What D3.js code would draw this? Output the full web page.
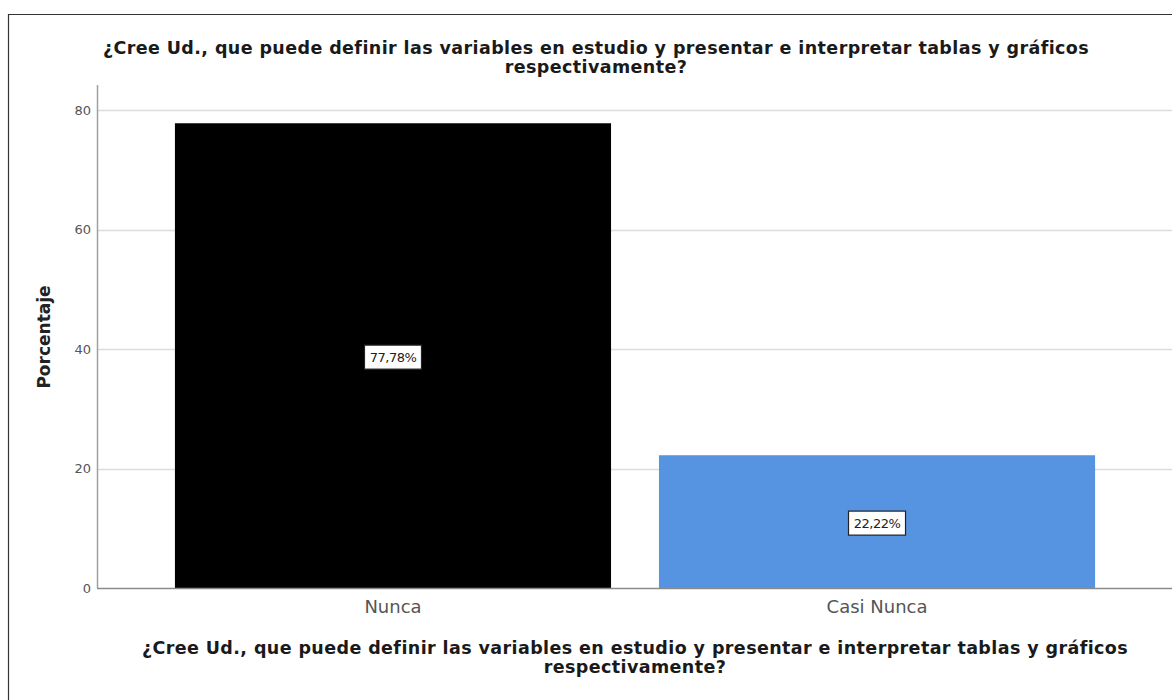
<!DOCTYPE html>
<html>
<head>
<meta charset="utf-8">
<script src="https://cdn.jsdelivr.net/npm/d3@7"></script>
<style>
  html, body { margin: 0; padding: 0; background: #fff; }
  svg { display: block; }
</style>
</head>
<body>
<svg id="chart" width="1172" height="700"></svg>
<script>
// Response categories and their percentages
const categories = ["Nunca", "Casi Nunca"];
const percentages = [77.78, 22.22];
const barColors = ["#000000", "#5694e2"];
const yTicks = [0, 20, 40, 60, 80];
const titleLines = [
  "¿Cree Ud., que puede definir las variables en estudio y presentar e interpretar tablas y gráficos",
  "respectivamente?"
];
const yLabel = "Porcentaje";

const svg = d3.select("#chart");
const W = 1172, H = 700;
const plot = { left: 97, right: 1173, top: 85, bottom: 588 };
const FONT = "'DejaVu Sans', 'Liberation Sans', Arial, sans-serif";

const x = d3.scaleBand()
  .domain(categories)
  .range([plot.left, plot.right])
  .paddingInner(0.099)
  .paddingOuter(0.161);

const y = d3.scaleLinear()
  .domain([0, 80])
  .range([plot.bottom, 110]);

// Outer frame (top and left edges)
svg.append("path")
  .attr("d", `M8.5,${H} V14.5 H${W}`)
  .attr("fill", "none")
  .attr("stroke", "#333")
  .attr("stroke-width", 1.2);

// Horizontal gridlines
svg.append("g")
  .selectAll("line")
  .data(yTicks.filter(d => d > 0))
  .join("line")
  .attr("x1", plot.left)
  .attr("x2", plot.right)
  .attr("y1", d => Math.round(y(d)) + 0.5)
  .attr("y2", d => Math.round(y(d)) + 0.5)
  .attr("stroke", "#dcdcdc")
  .attr("stroke-width", 1.5);

// Bars
const data = categories.map((c, i) => ({ c, v: percentages[i], color: barColors[i] }));
svg.append("g")
  .selectAll("rect")
  .data(data)
  .join("rect")
  .attr("x", d => x(d.c))
  .attr("y", d => y(d.v))
  .attr("width", x.bandwidth())
  .attr("height", d => y(0) - y(d.v))
  .attr("fill", d => d.color);

// Y axis
const yAxis = svg.append("g")
  .attr("transform", `translate(${plot.left},0)`)
  .call(d3.axisLeft(y).tickValues(yTicks).tickSize(0).tickPadding(6));
yAxis.select(".domain")
  .attr("d", `M0.5,${plot.top}V${plot.bottom}`)
  .attr("stroke", "#a0a0a0")
  .attr("stroke-width", 1.5);
yAxis.selectAll("text")
  .attr("font-family", FONT)
  .attr("font-size", 13)
  .attr("fill", "#555");

// X axis
const xAxis = svg.append("g")
  .attr("transform", `translate(0,${plot.bottom})`)
  .call(d3.axisBottom(x).tickSize(0).tickPadding(12));
xAxis.select(".domain")
  .attr("d", `M${plot.left},0.5H${plot.right}`)
  .attr("stroke", "#8a8a8a")
  .attr("stroke-width", 1.5);
xAxis.selectAll("text")
  .attr("font-family", FONT)
  .attr("font-size", 18)
  .attr("fill", "#555");

// Value labels in boxes at the middle of each bar
const labels = svg.append("g")
  .selectAll("g")
  .data(data)
  .join("g")
  .attr("transform", d => `translate(${x(d.c) + x.bandwidth() / 2},${(y(d.v) + y(0)) / 2 + 1.5})`);
labels.append("rect")
  .attr("x", -28.5)
  .attr("y", -12)
  .attr("width", 57)
  .attr("height", 24)
  .attr("fill", "#fff")
  .attr("stroke", "#222")
  .attr("stroke-width", 1.2);
labels.append("text")
  .attr("text-anchor", "middle")
  .attr("dy", "0.35em")
  .attr("font-family", FONT)
  .attr("font-size", 13)
  .attr("letter-spacing", -0.5)
  .attr("fill", "#222")
  .text(d => d.v.toFixed(2).replace(".", ",") + "%");

// Y axis title
svg.append("text")
  .attr("transform", "translate(50,337) rotate(-90)")
  .attr("text-anchor", "middle")
  .attr("font-family", FONT)
  .attr("font-weight", "bold")
  .attr("font-size", 17)
  .attr("fill", "#222")
  .text(yLabel);

// Chart title (top) and axis title (bottom)
function titleBlock(cx, y0) {
  const t = svg.append("text")
    .attr("text-anchor", "middle")
    .attr("font-family", FONT)
    .attr("font-weight", "bold")
    .attr("font-size", 17.5)
    .attr("letter-spacing", 0.4)
    .attr("fill", "#1a1a1a");
  titleLines.forEach((line, i) => {
    t.append("tspan")
      .attr("x", cx)
      .attr("y", y0 + i * 19)
      .text(line);
  });
}
titleBlock(596, 54);
titleBlock(635, 654);
</script>
</body>
</html>
